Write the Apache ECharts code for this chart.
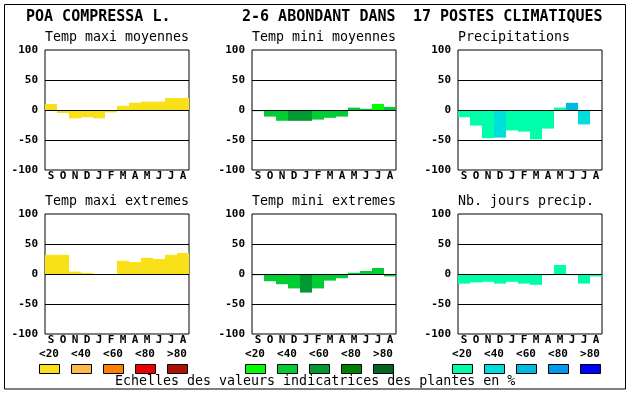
<!DOCTYPE html>
<html><head><meta charset="utf-8">
<script src="https://cdn.jsdelivr.net/npm/echarts@6/dist/echarts.min.js"></script>
<style>html,body{margin:0;padding:0;background:#fff}#c{width:630px;height:394px}</style>
</head><body><div id="c"></div>
<script>
const months = ['S','O','N','D','J','F','M','A','M','J','J','A'];
const yTicks = [-100, -50, 0, 50, 100];
const classLabels = ['<20','<40','<60','<80','>80'];

const tmaxMoy    = [10, -5, -14, -12, -14, -4, 7, 12, 14, 14, 20, 20];
const tmaxMoyCls = [0,0,0,0,0,0,0,0,0,0,0,0];
const tminMoy    = [-2, -11, -18, -18, -18, -16, -13, -11, 4, 2, 10, 5];
const tminMoyCls = [1,1,1,2,2,1,1,1,1,1,0,1];
const precip     = [-12, -26, -47, -46, -34, -36, -49, -31, 4, 12, -24, 0];
const precipCls  = [0,0,0,1,0,0,0,0,0,2,1,0];
const tmaxExt    = [32, 32, 4, 2, 0, 0, 22, 20, 27, 25, 32, 35];
const tmaxExtCls = [0,0,0,0,0,0,0,0,0,0,0,0];
const tminExt    = [-2, -12, -17, -24, -31, -24, -11, -7, 2, 5, 10, -4];
const tminExtCls = [1,1,1,1,2,1,1,1,1,1,1,1];
const nbJours    = [-16, -14, -13, -16, -13, -16, -18, -2, 15, -2, -16, -4];
const nbJoursCls = [0,0,0,0,0,0,0,0,0,0,0,0];

const warm  = ['#f9e11a','#ffb84d','#ff8000','#ee0000','#b01000'];
const green = ['#00ff00','#00cc33','#009933','#008000','#006622'];
const blue  = ['#00ffaa','#00dddd','#00bbdd','#0099ee','#0000ff'];

const FONT = 'DejaVu Sans Mono';
const panels = [
  {title:'Temp maxi moyennes', vals:tmaxMoy, cls:tmaxMoyCls, pal:warm,  left:45,  top:50},
  {title:'Temp mini moyennes', vals:tminMoy, cls:tminMoyCls, pal:green, left:252, top:50},
  {title:'Precipitations',     vals:precip,  cls:precipCls,  pal:blue,  left:458, top:50},
  {title:'Temp maxi extremes', vals:tmaxExt, cls:tmaxExtCls, pal:warm,  left:45,  top:214},
  {title:'Temp mini extremes', vals:tminExt, cls:tminExtCls, pal:green, left:252, top:214},
  {title:'Nb. jours precip.',  vals:nbJours, cls:nbJoursCls, pal:blue,  left:458, top:214}
];
const W = 144, H = 120;

const grid = [], xAxis = [], yAxis = [], series = [], graphic = [];
panels.forEach((p, i) => {
  grid.push({left:p.left, top:p.top, width:W, height:H, show:true, borderColor:'#000', borderWidth:1, backgroundColor:'#fff'});
  xAxis.push({gridIndex:i, type:'category', data:months, axisLine:{show:false}, axisTick:{show:false},
    axisLabel:{interval:0, margin:1, color:'#000', fontFamily:FONT, fontWeight:'bold', fontSize:11}});
  yAxis.push({gridIndex:i, type:'value', min:-100, max:100, interval:50, axisLine:{show:false}, axisTick:{show:false},
    splitLine:{show:false},
    axisLabel:{margin:7, color:'#000', fontFamily:FONT, fontWeight:'bold', fontSize:11}});
  series.push({type:'bar', xAxisIndex:i, yAxisIndex:i, barWidth:'100%', barCategoryGap:'0%',
    data:p.vals.map((v, k) => ({value:v, itemStyle:{color:p.pal[p.cls[k]]}})),
    markLine:{silent:true, symbol:'none', label:{show:false}, lineStyle:{color:'#000', type:'solid', width:1},
      data:yTicks.filter(t => t > -100 && t < 100).map(t => ({yAxis:t}))},
    animation:false});
  graphic.push({type:'text', left:p.left, top:p.top - 19,
    style:{text:p.title, fill:'#000', font:'13.3px "' + FONT + '"'}});
});

// title line
graphic.push({type:'text', left:26, top:10, style:{text:'POA COMPRESSA L.', fill:'#000', font:'bold 15px "' + FONT + '"'}});
graphic.push({type:'text', left:242, top:10, style:{text:'2-6 ABONDANT DANS', fill:'#000', font:'bold 15px "' + FONT + '"'}});
graphic.push({type:'text', left:413, top:10, style:{text:'17 POSTES CLIMATIQUES', fill:'#000', font:'bold 15px "' + FONT + '"'}});

// class legends
[[warm,39],[green,245],[blue,452]].forEach(([pal, x0]) => {
  pal.forEach((c, k) => {
    graphic.push({type:'rect', shape:{x:x0 + k*32 + 0.5, y:364.5, width:20, height:9},
      style:{fill:c, stroke:'#000', lineWidth:1}});
    graphic.push({type:'text', x:x0 + 10 + k*32, y:354,
      style:{text:classLabels[k], fill:'#000', font:'bold 11px "' + FONT + '"', textAlign:'center', textVerticalAlign:'middle'}});
  });
});
graphic.push({type:'text', left:115, top:375,
  style:{text:'Echelles des valeurs indicatrices des plantes en %', fill:'#000', font:'13.3px "' + FONT + '"'}});
// frame
graphic.push({type:'rect', shape:{x:4.5, y:4.5, width:621, height:384.5}, style:{fill:'none', stroke:'#000', lineWidth:1}, z:-1});

const chart = echarts.init(document.getElementById('c'), null, {renderer:'canvas'});
chart.setOption({animation:false, backgroundColor:'#fff', grid, xAxis, yAxis, series, graphic});
</script></body></html>
